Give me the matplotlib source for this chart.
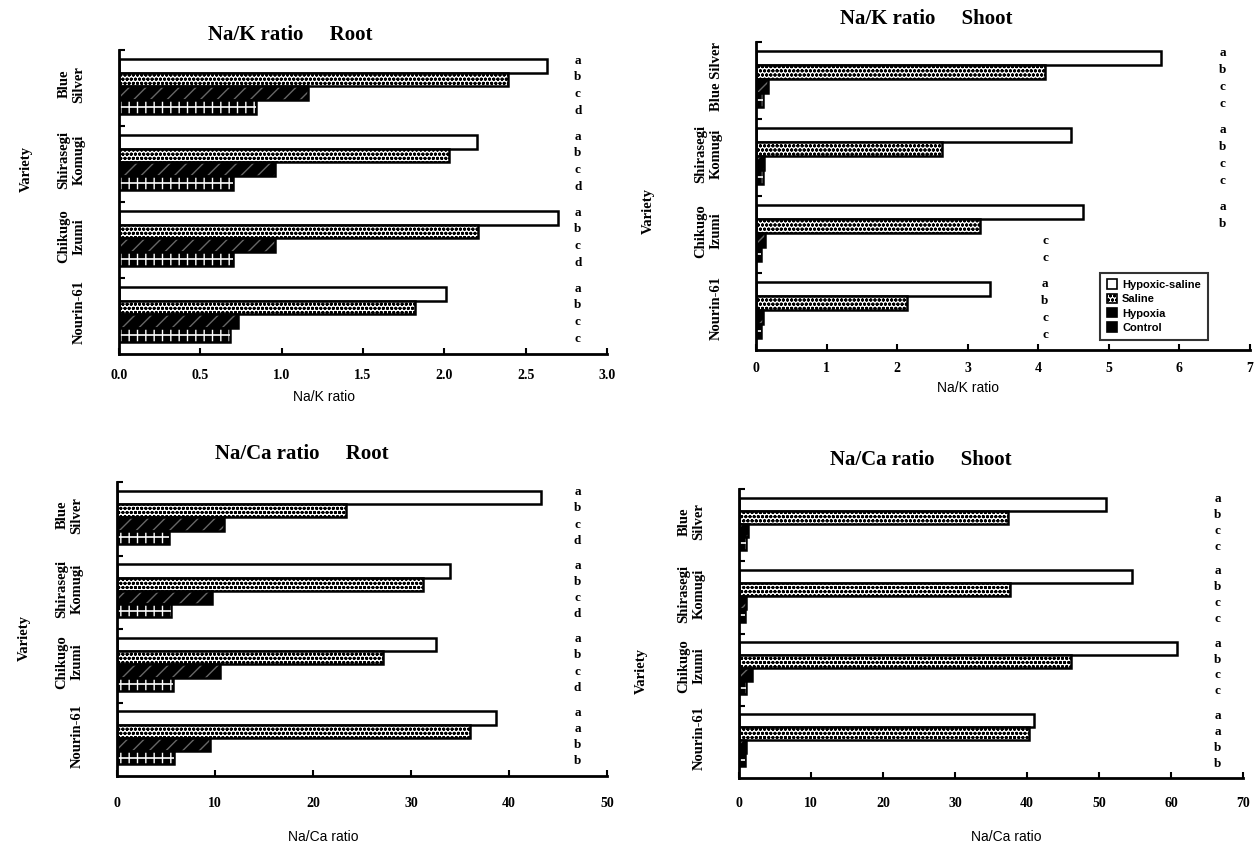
import matplotlib
matplotlib.use("Agg")
import matplotlib.pyplot as plt
import matplotlib.patches as mpatches
import numpy as np

plt.rcParams["font.family"] = ["Liberation Serif", "DejaVu Serif"]
plt.rcParams["font.weight"] = "bold"
plt.rcParams["hatch.linewidth"] = 1.0

# ---------------------------------------------------------------------------
# data

varieties = ["Blue\nSilver", "Shirasegi\nKomugi", "Chikugo\nIzumi", "Nourin-61"]
varieties_tr = ["Blue Silver", "Shirasegi\nKomugi", "Chikugo\nIzumi", "Nourin-61"]
treatments = ["Hypoxic-saline", "Saline", "Hypoxia", "Control"]

# Na/K ratio, root
nak_root_hs = [2.63, 2.20, 2.70, 2.01]
nak_root_sal = [2.39, 2.03, 2.21, 1.82]
nak_root_hyp = [1.16, 0.96, 0.96, 0.73]
nak_root_ctl = [0.84, 0.70, 0.70, 0.68]
nak_root_letters = [["a", "b", "c", "d"], ["a", "b", "c", "d"],
                    ["a", "b", "c", "d"], ["a", "b", "c", "c"]]

# Na/K ratio, shoot
nak_shoot_hs = [5.74, 4.47, 4.64, 3.31]
nak_shoot_sal = [4.09, 2.63, 3.17, 2.14]
nak_shoot_hyp = [0.17, 0.12, 0.13, 0.10]
nak_shoot_ctl = [0.10, 0.10, 0.07, 0.07]
nak_shoot_letters = [["a", "b", "c", "c"], ["a", "b", "c", "c"],
                     ["a", "b", "c", "c"], ["a", "b", "c", "c"]]

# Na/Ca ratio, root
naca_root_hs = [43.3, 34.0, 32.5, 38.7]
naca_root_sal = [23.4, 31.2, 27.1, 36.0]
naca_root_hyp = [10.9, 9.7, 10.5, 9.5]
naca_root_ctl = [5.3, 5.5, 5.7, 5.8]
naca_root_letters = [["a", "b", "c", "d"], ["a", "b", "c", "d"],
                     ["a", "b", "c", "d"], ["a", "a", "b", "b"]]

# Na/Ca ratio, shoot
naca_shoot_hs = [51.0, 54.6, 60.9, 41.0]
naca_shoot_sal = [37.3, 37.7, 46.1, 40.3]
naca_shoot_hyp = [1.3, 1.0, 1.8, 1.0]
naca_shoot_ctl = [1.0, 0.9, 1.0, 0.9]
naca_shoot_letters = [["a", "b", "c", "c"], ["a", "b", "c", "c"],
                      ["a", "b", "c", "c"], ["a", "a", "b", "b"]]

# ---------------------------------------------------------------------------
# bar styles: (face, hatch, hatch colour)
STYLES = [("white", None, None),
          ("white", "oooo", "black"),
          ("black", "//", "0.4"),
          ("black", "||", "white")]

BAR_H = 0.18
BAR_OFF = 0.12


def draw_panel(ax, series, letters, title, title_pos, xlabel, xlabel_pos,
               xlim, xticks, xticklabels, cats, ylabel_pos, letter_x, xpad):
    groups = np.arange(len(cats))
    for k, vals in enumerate(series):
        face, hatch, hcol = STYLES[k]
        y = groups + BAR_OFF + BAR_H * (k + 0.5)
        ax.barh(y, vals, height=BAR_H, color=face, edgecolor="black", linewidth=0)
        if hatch:
            ax.barh(y, vals, height=BAR_H, fill=False, hatch=hatch,
                    edgecolor=hcol, linewidth=0)
        if k == 3:
            # white line through the middle of the control bars
            ax.hlines(y, 0, vals, colors="white", linewidth=1.2)
        ax.barh(y, vals, height=BAR_H, fill=False, edgecolor="black", linewidth=1.8)

    for g, lets in enumerate(letters):
        for k, s in enumerate(lets):
            lx = letter_x[g][k] if isinstance(letter_x, list) else letter_x
            ax.text(lx, g + 0.14 + 0.22 * k, s, transform=ax.get_yaxis_transform(),
                    ha="center", va="center", fontsize=9.5)

    ax.set_xlim(*xlim)
    ax.set_ylim(len(cats), 0)
    ax.set_xticks(xticks)
    ax.set_xticklabels(xticklabels)
    ax.set_yticks(groups + 0.45)
    ax.set_yticklabels(cats)
    ax.set_yticks(groups, minor=True)
    plt.setp(ax.get_yticklabels(), rotation=90, ha="right", va="center",
             multialignment="center", fontsize=10.5)
    ax.tick_params(axis="y", which="major", length=0, pad=24)
    ax.tick_params(axis="y", which="minor", direction="in", length=4, width=1.5)
    ax.tick_params(axis="x", direction="in", length=4, width=1.5, pad=xpad, labelsize=10)
    for sp in ("top", "right"):
        ax.spines[sp].set_visible(False)
    for sp in ("left", "bottom"):
        ax.spines[sp].set_linewidth(2)

    ax.text(title_pos[0], title_pos[1], title, transform=ax.transAxes,
            ha="center", va="center", fontsize=15)
    ax.set_xlabel(xlabel, fontsize=10, family=["Liberation Sans", "DejaVu Sans"])
    ax.xaxis.set_label_coords(*xlabel_pos)
    ax.set_ylabel("Variety", fontsize=10.5, fontweight="bold")
    ax.yaxis.set_label_coords(*ylabel_pos)


W, H = 1258, 844
fig = plt.figure(figsize=(W / 100, H / 100), dpi=100)


def rect(l, r, t, b):
    return [l / W, 1 - b / H, (r - l) / W, (b - t) / H]


ax_tl = fig.add_axes(rect(119, 607, 50, 354))
ax_tr = fig.add_axes(rect(756, 1250, 42, 350))
ax_bl = fig.add_axes(rect(117, 607, 482, 776))
ax_br = fig.add_axes(rect(739, 1243, 489, 778))

draw_panel(ax_tl, [nak_root_hs, nak_root_sal, nak_root_hyp, nak_root_ctl],
           nak_root_letters, "Na/K ratio     Root", (0.35, 1.05),
           "Na/K ratio", (0.42, -0.12), (0, 3.0),
           [0, 0.5, 1.0, 1.5, 2.0, 2.5, 3.0],
           ["0.0", "0.5", "1.0", "1.5", "2.0", "2.5", "3.0"],
           varieties, (-0.176, 0.61), 0.94, 11)

hi, lo = 0.945, 0.585
draw_panel(ax_tr, [nak_shoot_hs, nak_shoot_sal, nak_shoot_hyp, nak_shoot_ctl],
           nak_shoot_letters, "Na/K ratio     Shoot", (0.345, 1.075),
           "Na/K ratio", (0.43, -0.1), (0, 7),
           [0, 1, 2, 3, 4, 5, 6, 7], ["0", "1", "2", "3", "4", "5", "6", "7"],
           varieties_tr, (-0.205, 0.45),
           [[hi] * 4, [hi] * 4, [hi, hi, lo, lo], [lo] * 4], 9)

draw_panel(ax_bl, [naca_root_hs, naca_root_sal, naca_root_hyp, naca_root_ctl],
           naca_root_letters, "Na/Ca ratio     Root", (0.378, 1.095),
           "Na/Ca ratio", (0.42, -0.185), (0, 50),
           [0, 10, 20, 30, 40, 50], ["0", "10", "20", "30", "40", "50"],
           varieties, (-0.176, 0.47), 0.94, 15)

draw_panel(ax_br, [naca_shoot_hs, naca_shoot_sal, naca_shoot_hyp, naca_shoot_ctl],
           naca_shoot_letters, "Na/Ca ratio     Shoot", (0.36, 1.1),
           "Na/Ca ratio", (0.53, -0.18), (0, 70),
           [0, 10, 20, 30, 40, 50, 60, 70],
           ["0", "10", "20", "30", "40", "50", "60", "70"],
           varieties, (-0.18, 0.37), 0.95, 14)

# legend in the Na/K shoot panel
handles = []
for k, name in enumerate(treatments):
    face, hatch, hcol = STYLES[k]
    handles.append(mpatches.Patch(facecolor=face, edgecolor="black", hatch=hatch,
                                  linewidth=1.2, label=name))
leg = ax_tr.legend(handles=handles, loc="lower left", bbox_to_anchor=(0.685, 0.016),
                   fancybox=False, edgecolor="black", handlelength=0.9,
                   handleheight=0.9, borderpad=0.6, labelspacing=0.35,
                   handletextpad=0.5, prop={"family": "Liberation Sans",
                                            "weight": "bold", "size": 8})
leg.get_frame().set_linewidth(1.5)

fig.savefig("out.png", dpi=100)
